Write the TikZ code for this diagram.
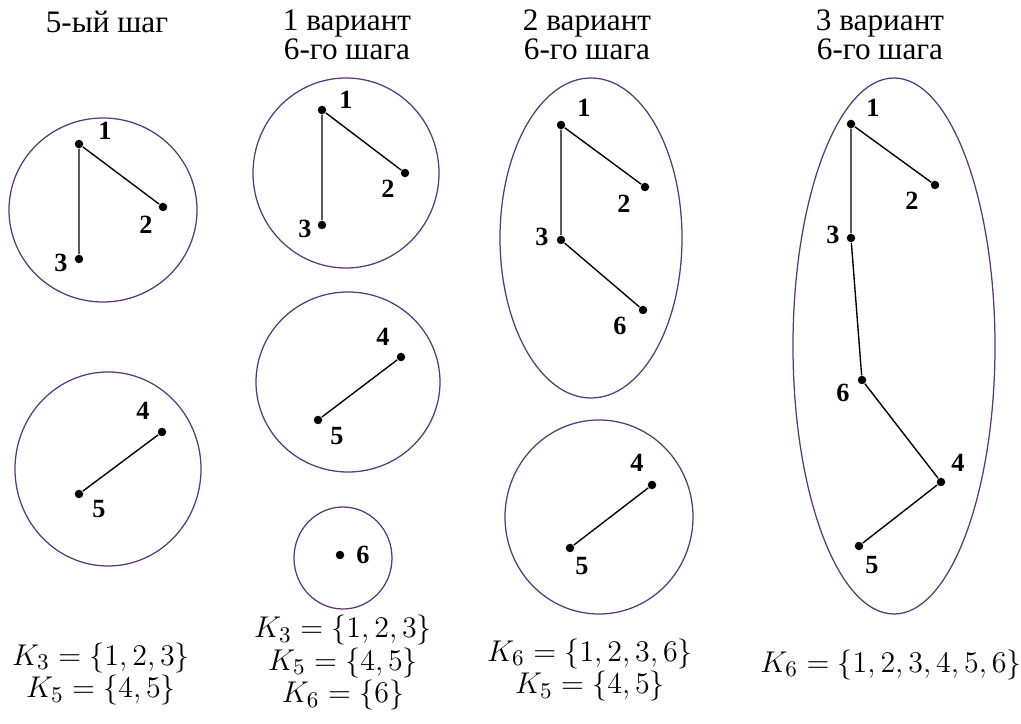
\documentclass[tikz,border=0pt]{standalone}
\usepackage{fontspec}
\usepackage{amsmath,amssymb}
\usepackage{tikz}
\usetikzlibrary{positioning, calc}
\newfontfamily\cyrfont{Liberation Serif}
\definecolor{ringcol}{RGB}{88,56,118}
\tikzset{
    vertex/.style={circle, fill=black, inner sep=0pt, minimum size=3.4pt},
    vlabel/.style={font=\cyrfont\bfseries\fontsize{10.5}{10.5}\selectfont, inner sep=0pt},
    link/.style={black, line width=0.55pt},
    ring/.style={ringcol, line width=0.5pt},
    head/.style={font={\cyrfont\fontsize{12.5}{11.8}\selectfont}, align=center, inner sep=0pt},
    sets/.style={font={\fontsize{12.5}{13}\selectfont}, align=center, inner sep=0pt}
}

\begin{document}
\begin{tikzpicture}[x=0.4pt, y=-0.4pt]
\useasboundingbox (0,0) rectangle (1021,724);

% headings
\node[head] (hA) at (107,22) {5-ый шаг};
\node[head] (hB) at (347,35) {1 вариант\\6-го шага};
\node[head] (hC) at (587,35) {2 вариант\\6-го шага};
\node[head] (hD) at (880,35) {3 вариант\\6-го шага};

% clusters
\draw[ring] (103,210) ellipse [x radius=94, y radius=92];
\draw[ring] (108,469) ellipse [x radius=93, y radius=97];
\draw[ring] (346,173) ellipse [x radius=93, y radius=95];
\draw[ring] (348,382) ellipse [x radius=92, y radius=90];
\draw[ring] (343,558) ellipse [x radius=49, y radius=51];
\draw[ring] (591,238) ellipse [x radius=91, y radius=160];
\draw[ring] (599,517) ellipse [x radius=94, y radius=97];
\draw[ring] (894,346) ellipse [x radius=101, y radius=268];

% vertices and their numbers
\foreach \n/\x/\y/\lx/\ly in {1/79/144/105/131, 2/163/207/146/225, 3/79/259/61/263,
    4/162/432/143/411, 5/79/494/99/509} {
    \node[vertex] (a\n) at (\x,\y) {};
    \node[vlabel] (la\n) at (\lx,\ly) {\n};
}
\foreach \n/\x/\y/\lx/\ly in {1/322/110/346/100, 2/405/173/388/189, 3/322/225/305/229,
    4/401/357/383/337, 5/318/420/337/436, 6/340/555/363/555} {
    \node[vertex] (b\n) at (\x,\y) {};
    \node[vlabel] (lb\n) at (\lx,\ly) {\n};
}
\foreach \n/\x/\y/\lx/\ly in {1/561/125/584/108, 2/645/187/624/204, 3/561/240/542/237,
    6/643/310/620/326, 4/652/485/637/463, 5/570/548/582/566} {
    \node[vertex] (c\n) at (\x,\y) {};
    \node[vlabel] (lc\n) at (\lx,\ly) {\n};
}
\foreach \n/\x/\y/\lx/\ly in {1/851/124/873/108, 2/935/185/912/201, 3/851/238/833/235,
    6/862/380/843/393, 4/941/482/958/463, 5/859/546/872/565} {
    \node[vertex] (d\n) at (\x,\y) {};
    \node[vlabel] (ld\n) at (\lx,\ly) {\n};
}

% edges
\draw[link] (a1) -- (a2) (a1) -- (a3) (a4) -- (a5);
\draw[link] (b1) -- (b2) (b1) -- (b3) (b4) -- (b5);
\draw[link] (c1) -- (c2) (c1) -- (c3) (c3) -- (c6) (c4) -- (c5);
\draw[link] (d1) -- (d2) (d1) -- (d3) (d3) -- (d6) (d6) -- (d4) (d4) -- (d5);

% resulting sets
\node[sets] (sA) at (101,674) {$K_3=\{1,2,3\}$\\$K_5=\{4,5\}$};
\node[sets] (sB) at (343,663) {$K_3=\{1,2,3\}$\\$K_5=\{4,5\}$\\$K_6=\{6\}$};
\node[sets] (sC) at (590,670) {$K_6=\{1,2,3,6\}$\\$K_5=\{4,5\}$};
\node[sets] (sD) at (891,665) {$K_6=\{1,2,3,4,5,6\}$};
\end{tikzpicture}
\end{document}
